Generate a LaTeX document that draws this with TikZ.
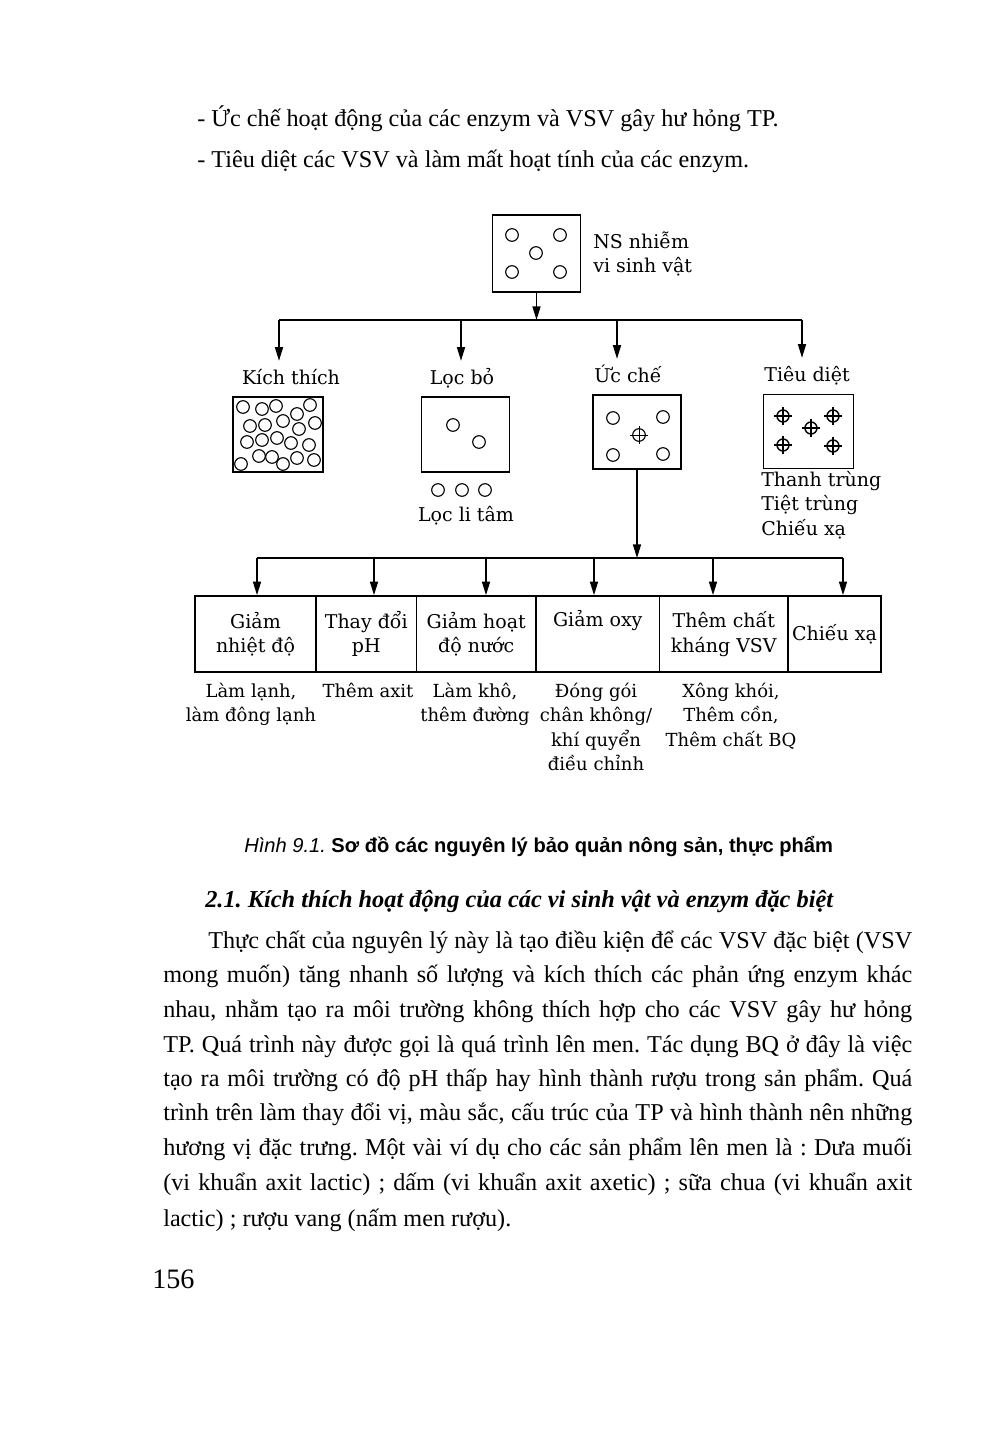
\documentclass[tikz,border=0pt]{standalone}
\usepackage{fontspec}
\setmainfont{Liberation Serif}
\newfontfamily\diagfont{DejaVu Serif}
\newfontfamily\capfont{Liberation Sans}
\usetikzlibrary{arrows.meta}
\newlength\pxl
\setlength\pxl{0.025cm}
\frenchspacing

\begin{document}
\begin{tikzpicture}[x=0.025cm,y=-0.025cm,
  body/.style={font=\fontsize{17.2}{20}\selectfont,inner sep=0pt,anchor=base west},
  lbl/.style={font=\diagfont\fontsize{13.5}{17.4}\selectfont,inner sep=0pt,align=center},
  head/.style={lbl,anchor=base,text height=9.5pt,text depth=3pt,inner ysep=6.8pt},
  note/.style={lbl,font=\diagfont\fontsize{12.8}{17.4}\selectfont,anchor=north},
  dish/.style={draw,line width=1.2pt,inner sep=0pt,minimum width=88*\pxl,minimum height=75*\pxl},
  way/.style={lbl,draw,line width=1.2pt,minimum height=76*\pxl},
  wire/.style={line width=1.1pt},
  arr/.style={wire,-{Triangle[length=3.4mm,width=2mm]}},
  ring/.style={line width=0.8pt}
]
\fill[white] (0,0) rectangle (991,1441);
\useasboundingbox (0,0) rectangle (991,1441);

% text above the figure
\node[body] (aim1) at (197,126) {- Ức chế hoạt động của các enzym và VSV gây hư hỏng TP.};
\node[body] (aim2) at (197,167) {- Tiêu diệt các VSV và làm mất hoạt tính của các enzym.};

% raw product
\node[dish,minimum height=77*\pxl] (ns) at (536.5,253.5) {};
\foreach \x/\y in {512/235,560/235,536/253,512/272,560/272}
  \draw[ring] (\x,\y) circle[radius=6.3*\pxl];
\node[lbl,align=left,anchor=north west] (nsl) at (593,231) {\strut NS nhiễm\\vi sinh vật};

% four principles
\coordinate (t1) at (279,320);
\coordinate (t2) at (461,320);
\coordinate (t3) at (617,320);
\coordinate (t4) at (802,320);
\draw[wire] (t1) -- (t4);
\draw[arr] (ns.south) -- (ns.south |- t1);

\node[head] (ktl) at (291,384) {Kích thích};
\node[head] (lbl) at (462,384) {Lọc bỏ};
\node[head] (ucl) at (628,382) {Ức chế};
\node[head] (tdl) at (807,381) {Tiêu diệt};
\draw[arr] (t1) -- (t1 |- ktl.north);
\draw[arr] (t2) -- (t2 |- lbl.north);
\draw[arr] (t3) -- (t3 |- ucl.north);
\draw[arr] (t4) -- (t4 |- tdl.north);

\node[dish,minimum width=90*\pxl] (kt) at (278,434.5) {};
\foreach \x/\y in {243/407,262/409,276/406,297/414,310/405,
                   250/426,265/425,283/421,299/429,315/423,
                   247/442,262/440,277/438,291/443,309/445,
                   241/464,259/456,272/457,283/464,297/458,314/460}
  \draw[ring] (\x,\y) circle[radius=6.3*\pxl];

\node[dish] (lb) at (465.5,434.5) {};
\foreach \x/\y in {453/425,479/442,438/490,462/490,485/490}
  \draw[ring] (\x,\y) circle[radius=6.3*\pxl];
\node[lbl,anchor=base] (ltam) at (466,521) {Lọc li tâm};

\node[dish,minimum height=74*\pxl] (uc) at (637,432) {};
\foreach \x/\y in {613/418,663/417,613/455,663/454}
  \draw[ring] (\x,\y) circle[radius=6.3*\pxl];
\draw[ring] (639,435) circle[radius=6.3*\pxl];
\draw[line width=0.5pt] (630,435) -- (648,435) (639,426) -- (639,444);

\node[dish,minimum width=90*\pxl,minimum height=74*\pxl] (td) at (808.5,431.5) {};
\foreach \x/\y in {783/416,833/416,811/428,783/445,833/446}{
  \draw[line width=1pt] (\x,\y) circle[radius=6*\pxl];
  \draw[line width=0.8pt] (\x-9,\y) -- (\x+9,\y) (\x,\y-9) -- (\x,\y+9);
}
\node[lbl,align=left,anchor=north west] (tdn) at (761,469) {\strut Thanh trùng\\Tiệt trùng\\Chiếu xạ};

% ways to inhibit
\coordinate (m1) at (257,558);
\coordinate (m2) at (374,558);
\coordinate (m3) at (486,558);
\coordinate (m4) at (594,558);
\coordinate (m5) at (713,558);
\coordinate (m6) at (843,558);
\draw[wire] (m1) -- (m6);
\draw[arr] (uc.south) -- (uc.south |- m1);

\node[way,minimum width=121*\pxl] (w1) at (255.5,634) {Giảm\\nhiệt độ};
\node[way,minimum width=100.5*\pxl] (w2) at (366.25,634) {Thay đổi\\pH};
\node[way,minimum width=119.5*\pxl] (w3) at (476.25,634) {Giảm hoạt\\độ nước};
\node[way,minimum width=123.5*\pxl] (w4) at (597.75,634) {Giảm oxy\\\strut};
\node[way,minimum width=128.5*\pxl] (w5) at (723.75,634) {Thêm chất\\kháng VSV};
\node[way,minimum width=93*\pxl] (w6) at (834.5,634) {Chiếu xạ};
\foreach \i in {1,...,6}
  \draw[arr] (m\i) -- (m\i |- w\i.north);

\node[note] (n1) at (251,680) {\strut Làm lạnh,\\làm đông lạnh};
\node[note] (n2) at (368,680) {\strut Thêm axit};
\node[note] (n3) at (475,680) {\strut Làm khô,\\thêm đường};
\node[note] (n4) at (596,680) {\strut Đóng gói\\chân không/\\khí quyển\\điều chỉnh};
\node[note] (n5) at (731,680) {\strut Xông khói,\\Thêm cồn,\\Thêm chất BQ};

% caption and text below
\node[anchor=base west,inner sep=0pt,font=\capfont\fontsize{14.3}{16}\selectfont] (cap) at (244,852)
  {\textit{Hình 9.1.} \textbf{Sơ đồ các nguyên lý bảo quản nông sản, thực phẩm}};
\node[body,font=\fontsize{17.3}{20}\selectfont] (sec) at (205,907)
  {\textbf{\textit{2.1. Kích thích hoạt động của các vi sinh vật và enzym đặc biệt}}};

\node[body] (p1) at (208,948) {\hbox to 704\pxl{Thực chất của nguyên lý này là tạo điều kiện để các VSV đặc biệt (VSV}};
\node[body] (p2) at (163,982) {\hbox to 749\pxl{mong muốn) tăng nhanh số lượng và kích thích các phản ứng enzym khác}};
\node[body] (p3) at (163,1017) {\hbox to 749\pxl{nhau, nhằm tạo ra môi trường không thích hợp cho các VSV gây hư hỏng}};
\node[body] (p4) at (163,1052) {\hbox to 749\pxl{TP. Quá trình này được gọi là quá trình lên men. Tác dụng BQ ở đây là việc}};
\node[body] (p5) at (163,1086) {\hbox to 749\pxl{tạo ra môi trường có độ pH thấp hay hình thành rượu trong sản phẩm. Quá}};
\node[body] (p6) at (163,1120) {\hbox to 749\pxl{trình trên làm thay đổi vị, màu sắc, cấu trúc của TP và hình thành nên những}};
\node[body] (p7) at (163,1155) {\hbox to 749\pxl{hương vị đặc trưng. Một vài ví dụ cho các sản phẩm lên men là : Dưa muối}};
\node[body] (p8) at (163,1190) {\hbox to 749\pxl{(vi khuẩn axit lactic) ; dấm (vi khuẩn axit axetic) ; sữa chua (vi khuẩn axit}};
\node[body] (p9) at (163,1226) {lactic) ; rượu vang (nấm men rượu).};

\node[body,font=\fontsize{20}{24}\selectfont] (pg) at (152,1288) {156};
\end{tikzpicture}
\end{document}
